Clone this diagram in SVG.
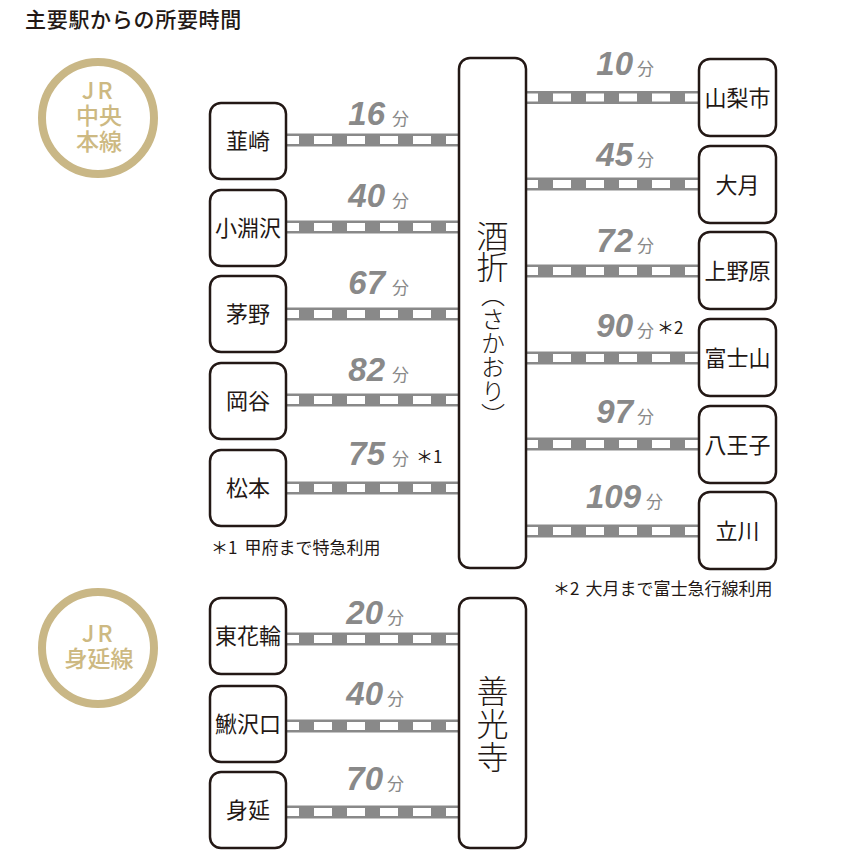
<svg xmlns="http://www.w3.org/2000/svg" width="860" height="860" viewBox="0 0 860 860">
<style>
.bg{fill:#fff}
.box{fill:#fff;stroke:#231815;stroke-width:2.5}
.lbl{font-family:"Noto Sans CJK JP","Noto Sans",sans-serif;font-size:22px;fill:#231815;text-anchor:middle}
.vt{font-family:"Noto Sans CJK JP","Noto Sans",sans-serif;fill:#231815;font-weight:300;writing-mode:vertical-rl}
.rail{fill:#898989}
.tie{stroke:#fff;stroke-width:8;stroke-dasharray:18 15;fill:none}
.num{font-family:"Liberation Sans",Arial,sans-serif;font-weight:bold;font-style:italic;font-size:33px;fill:#898989;text-anchor:end}
.fun{font-family:"Noto Sans CJK JP","Noto Sans",sans-serif;font-size:17px;fill:#898989}
.note{font-family:"Noto Sans CJK JP","Noto Sans",sans-serif;font-size:17px;fill:#231815}
.ring{fill:none;stroke:#c9b786;stroke-width:8}
.ringt{font-family:"Noto Sans CJK JP","Noto Sans",sans-serif;font-size:23px;font-weight:500;fill:#cdb982;text-anchor:middle}
.title{font-family:"Noto Sans CJK JP","Noto Sans",sans-serif;font-size:21px;font-weight:500;fill:#231815}
</style>
<rect class="bg" x="0" y="0" width="860" height="860"/>
<text class="title" x="25" y="27" letter-spacing="0.7">主要駅からの所要時間</text>

<g id="line-chuo">
  <circle class="ring" cx="98" cy="118" r="56"/>
  <text class="ringt"><tspan x="88" y="99">J</tspan><tspan x="105" y="99">R</tspan><tspan x="99" y="124">中央</tspan><tspan x="99" y="150">本線</tspan></text>
</g>
<g id="line-minobu">
  <circle class="ring" cx="98" cy="648" r="56"/>
  <text class="ringt"><tspan x="88" y="642">J</tspan><tspan x="105" y="642">R</tspan><tspan x="99" y="667">身延線</tspan></text>
</g>

<g id="connectors">
  <rect class="rail" x="286" y="133.5" width="173" height="13"/><line class="tie" x1="286" y1="140" x2="459" y2="140" stroke-dashoffset="5"/>
  <rect class="rail" x="286" y="220.5" width="173" height="13"/><line class="tie" x1="286" y1="227" x2="459" y2="227" stroke-dashoffset="5"/>
  <rect class="rail" x="286" y="307.5" width="173" height="13"/><line class="tie" x1="286" y1="314" x2="459" y2="314" stroke-dashoffset="5"/>
  <rect class="rail" x="286" y="393.5" width="173" height="13"/><line class="tie" x1="286" y1="400" x2="459" y2="400" stroke-dashoffset="5"/>
  <rect class="rail" x="286" y="481.5" width="173" height="13"/><line class="tie" x1="286" y1="488" x2="459" y2="488" stroke-dashoffset="5"/>

  <rect class="rail" x="526" y="91" width="173" height="13"/><line class="tie" x1="526" y1="97.5" x2="699" y2="97.5" stroke-dashoffset="6"/>
  <rect class="rail" x="526" y="177.5" width="173" height="13"/><line class="tie" x1="526" y1="184" x2="699" y2="184" stroke-dashoffset="6"/>
  <rect class="rail" x="526" y="264.5" width="173" height="13"/><line class="tie" x1="526" y1="271" x2="699" y2="271" stroke-dashoffset="6"/>
  <rect class="rail" x="526" y="351.5" width="173" height="13"/><line class="tie" x1="526" y1="358" x2="699" y2="358" stroke-dashoffset="6"/>
  <rect class="rail" x="526" y="437.5" width="173" height="13"/><line class="tie" x1="526" y1="444" x2="699" y2="444" stroke-dashoffset="6"/>
  <rect class="rail" x="526" y="524.5" width="173" height="13"/><line class="tie" x1="526" y1="531" x2="699" y2="531" stroke-dashoffset="6"/>

  <rect class="rail" x="286" y="632.5" width="173" height="13"/><line class="tie" x1="286" y1="639" x2="459" y2="639" stroke-dashoffset="5"/>
  <rect class="rail" x="286" y="719.5" width="173" height="13"/><line class="tie" x1="286" y1="726" x2="459" y2="726" stroke-dashoffset="5"/>
  <rect class="rail" x="286" y="805.5" width="173" height="13"/><line class="tie" x1="286" y1="812" x2="459" y2="812" stroke-dashoffset="5"/>
</g>

<g id="times">
  <text class="num" x="385" y="125">16</text><text class="fun" x="392" y="125">分</text>
  <text class="num" x="385" y="207">40</text><text class="fun" x="392" y="207">分</text>
  <text class="num" x="385" y="294">67</text><text class="fun" x="392" y="294">分</text>
  <text class="num" x="385" y="381">82</text><text class="fun" x="392" y="381">分</text>
  <text class="num" x="385" y="465">75</text><text class="fun" x="392" y="465">分</text><text class="note" x="416" y="463">＊1</text>

  <text class="num" x="633" y="75">10</text><text class="fun" x="637" y="75">分</text>
  <text class="num" x="633" y="166">45</text><text class="fun" x="637" y="166">分</text>
  <text class="num" x="633" y="252">72</text><text class="fun" x="637" y="252">分</text>
  <text class="num" x="633" y="337">90</text><text class="fun" x="637" y="337">分</text><text class="note" x="657" y="334">＊2</text>
  <text class="num" x="633" y="423">97</text><text class="fun" x="637" y="423">分</text>
  <text class="num" x="641" y="508">109</text><text class="fun" x="646" y="508">分</text>

  <text class="num" x="383" y="624">20</text><text class="fun" x="387" y="624">分</text>
  <text class="num" x="383" y="705">40</text><text class="fun" x="387" y="705">分</text>
  <text class="num" x="383" y="790">70</text><text class="fun" x="387" y="790">分</text>
</g>

<g id="node-nirasaki"><rect class="box" x="210" y="103" width="76" height="76" rx="11"/><text class="lbl" x="248" y="149">韮崎</text></g>
<g id="node-kobuchizawa"><rect class="box" x="210" y="190" width="76" height="76" rx="11"/><text class="lbl" x="248" y="236">小淵沢</text></g>
<g id="node-chino"><rect class="box" x="210" y="276" width="76" height="76" rx="11"/><text class="lbl" x="248" y="322">茅野</text></g>
<g id="node-okaya"><rect class="box" x="210" y="363" width="76" height="76" rx="11"/><text class="lbl" x="248" y="409">岡谷</text></g>
<g id="node-matsumoto"><rect class="box" x="210" y="450" width="76" height="76" rx="11"/><text class="lbl" x="248" y="496">松本</text></g>

<g id="node-sakaori">
  <rect class="box" x="459" y="58" width="67" height="510" rx="11"/>
  <text class="vt" x="492.5" y="220" font-size="32" letter-spacing="-1">酒折</text>
  <text class="vt" x="493" y="283" font-size="24">（さかおり）</text>
</g>

<g id="node-yamanashishi"><rect class="box" x="699" y="59" width="77" height="77" rx="11"/><text class="lbl" x="737.5" y="105.5">山梨市</text></g>
<g id="node-otsuki"><rect class="box" x="699" y="146" width="77" height="77" rx="11"/><text class="lbl" x="737.5" y="192.5">大月</text></g>
<g id="node-uenohara"><rect class="box" x="699" y="232" width="77" height="77" rx="11"/><text class="lbl" x="737.5" y="278.5">上野原</text></g>
<g id="node-fujisan"><rect class="box" x="699" y="319" width="77" height="77" rx="11"/><text class="lbl" x="737.5" y="365.5">富士山</text></g>
<g id="node-hachioji"><rect class="box" x="699" y="406" width="77" height="77" rx="11"/><text class="lbl" x="737.5" y="452.5">八王子</text></g>
<g id="node-tachikawa"><rect class="box" x="699" y="492" width="77" height="77" rx="11"/><text class="lbl" x="737.5" y="538.5">立川</text></g>

<text class="note" x="211" y="554">＊1<tspan dx="7">甲府まで特急利用</tspan></text>
<text class="note" x="553" y="595">＊2<tspan dx="6">大月まで富士急行線利用</tspan></text>

<g id="node-higashihanawa"><rect class="box" x="210" y="598" width="76" height="76" rx="11"/><text class="lbl" x="248" y="644">東花輪</text></g>
<g id="node-kajikazawaguchi"><rect class="box" x="210" y="686" width="76" height="76" rx="11"/><text class="lbl" x="248" y="732">鰍沢口</text></g>
<g id="node-minobu"><rect class="box" x="210" y="772" width="76" height="76" rx="11"/><text class="lbl" x="248" y="818">身延</text></g>

<g id="node-zenkoji">
  <rect class="box" x="459" y="598" width="67" height="250" rx="11"/>
  <text class="vt" x="492.5" y="675" font-size="32" letter-spacing="1">善光寺</text>
</g>
</svg>
